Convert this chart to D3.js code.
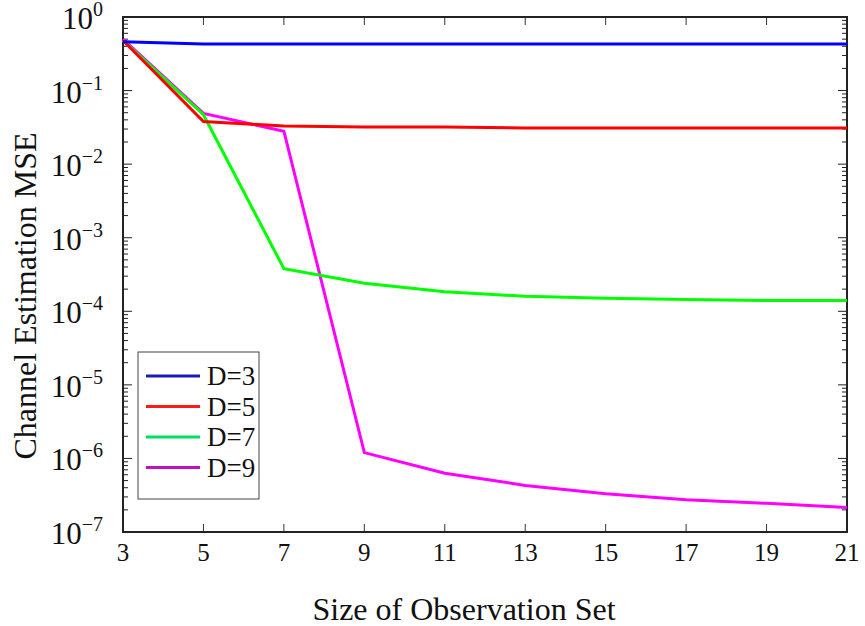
<!DOCTYPE html>
<html>
<head>
<meta charset="utf-8">
<script src="https://cdn.jsdelivr.net/npm/d3@7"></script>
<style>
  body { margin: 0; background: #fff; }
</style>
</head>
<body>
<div id="chart"></div>
<script>
// data
var obsSize = [3, 5, 7, 9, 11, 13, 15, 17, 19, 21];
var mseD3 = [0.46, 0.43, 0.43, 0.43, 0.43, 0.43, 0.43, 0.43, 0.43, 0.43];
var mseD5 = [0.48, 0.038, 0.033, 0.032, 0.032, 0.031, 0.031, 0.031, 0.031, 0.031];
var mseD7 = [0.48, 0.047, 3.8e-4, 2.4e-4, 1.85e-4, 1.6e-4, 1.5e-4, 1.45e-4, 1.4e-4, 1.4e-4];
var mseD9 = [0.5, 0.049, 0.028, 1.2e-6, 6.3e-7, 4.3e-7, 3.3e-7, 2.75e-7, 2.45e-7, 2.15e-7];
var seriesNames = ["D=3", "D=5", "D=7", "D=9"];
var lineColors = ["#0000ff", "#ff0000", "#00ff00", "#ff00ff"];
var legendColors = ["#1a1ab8", "#ff1a1a", "#00e060", "#c010c0"];
var yExponents = [0, -1, -2, -3, -4, -5, -6, -7];

var W = 865, H = 626;
var margin = {top: 17, right: 18, bottom: 94, left: 123};
var width = W - margin.left - margin.right,
    height = H - margin.top - margin.bottom;

var svg = d3.select("#chart").append("svg")
    .attr("width", W).attr("height", H)
    .attr("font-family", "'Liberation Serif', 'Times New Roman', Times, serif")
    .attr("fill", "#111");
var g = svg.append("g")
    .attr("transform", "translate(" + margin.left + "," + margin.top + ")");

var x = d3.scaleLinear().domain([3, 21]).range([0, width]);
var y = d3.scaleLog().domain([1e-7, 1]).range([height, 0]);

// minor + major ticks on y (left and right, pointing inward)
var minorVals = [];
yExponents.forEach(function(e) {
  if (e === 0) return;
  for (var k = 2; k <= 9; k++) minorVals.push(k * Math.pow(10, e));
});
var majorVals = yExponents.map(function(e) { return Math.pow(10, e); });

[0, width].forEach(function(xp, i) {
  var dir = i === 0 ? 1 : -1;
  g.selectAll(null).data(minorVals).enter().append("line")
    .attr("x1", xp).attr("x2", xp + dir * 5)
    .attr("y1", function(d) { return y(d); }).attr("y2", function(d) { return y(d); })
    .attr("stroke", "#222").attr("stroke-width", 1);
  g.selectAll(null).data(majorVals).enter().append("line")
    .attr("x1", xp).attr("x2", xp + dir * 9)
    .attr("y1", function(d) { return y(d); }).attr("y2", function(d) { return y(d); })
    .attr("stroke", "#222").attr("stroke-width", 1);
});

// x ticks top and bottom
[0, height].forEach(function(yp, i) {
  var dir = i === 0 ? 1 : -1;
  g.selectAll(null).data(obsSize).enter().append("line")
    .attr("x1", function(d) { return x(d); }).attr("x2", function(d) { return x(d); })
    .attr("y1", yp).attr("y2", yp + dir * 8)
    .attr("stroke", "#333").attr("stroke-width", 1);
});

// frame
g.append("rect").attr("width", width).attr("height", height)
  .attr("fill", "none").attr("stroke", "#222").attr("stroke-width", 2);

// y tick labels 10^n
var yl = g.selectAll(null).data(yExponents).enter().append("text")
  .attr("x", -20).attr("y", function(d) { return y(Math.pow(10, d)) + 12; })
  .attr("text-anchor", "end").attr("font-size", 31);
yl.append("tspan").text("10");
yl.append("tspan").attr("dy", -13).attr("font-size", 20)
  .text(function(d) { return d === 0 ? "0" : "\u2212" + (-d); });

// x tick labels
g.selectAll(null).data(obsSize).enter().append("text")
  .attr("x", function(d) { return x(d); }).attr("y", height + 29)
  .attr("text-anchor", "middle").attr("font-size", 25)
  .text(function(d) { return d; });

// axis titles
svg.append("text").attr("x", 464).attr("y", 620)
  .attr("text-anchor", "middle").attr("font-size", 32)
  .text("Size of Observation Set");
svg.append("text")
  .attr("transform", "translate(36,296) rotate(-90)")
  .attr("text-anchor", "middle").attr("font-size", 32)
  .text("Channel Estimation MSE");

// lines
var allSeries = [mseD3, mseD5, mseD7, mseD9];
var line = d3.line()
  .x(function(d, i) { return x(obsSize[i]); })
  .y(function(d) { return y(d); });
g.append("g").selectAll("path").data(allSeries.slice().reverse()).enter().append("path")
  .attr("d", line)
  .attr("fill", "none")
  .attr("stroke", function(d, i) { return lineColors[3 - i]; })
  .attr("stroke-width", 3)
  .attr("stroke-linejoin", "miter");

// legend
var lg = svg.append("g").attr("transform", "translate(138,352)");
lg.append("rect").attr("width", 121).attr("height", 147)
  .attr("fill", "#fff").attr("stroke", "#444").attr("stroke-width", 1);
var items = lg.selectAll(null).data(seriesNames).enter().append("g")
  .attr("transform", function(d, i) { return "translate(0," + (24 + i * 30.5) + ")"; });
items.append("line").attr("x1", 8).attr("x2", 62).attr("y1", 0).attr("y2", 0)
  .attr("stroke", function(d, i) { return legendColors[i]; }).attr("stroke-width", 3);
items.append("text").attr("x", 69).attr("y", 9).attr("font-size", 27)
  .text(function(d) { return d; });
</script>
</body>
</html>
